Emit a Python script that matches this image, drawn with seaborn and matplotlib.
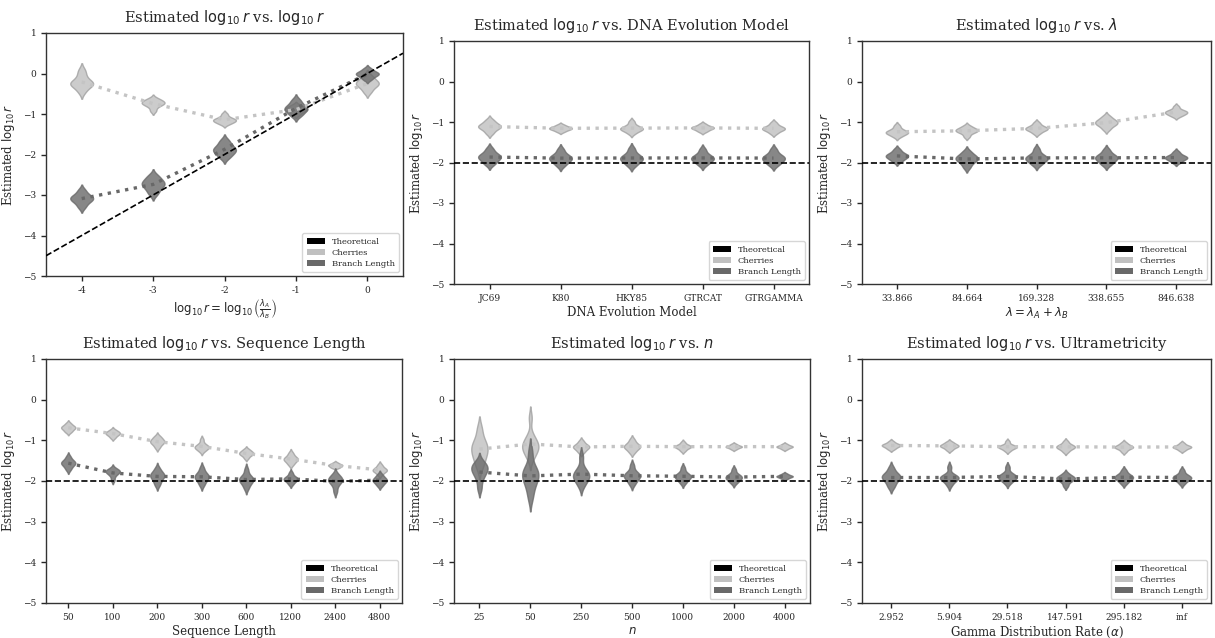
import numpy as np
import pandas as pd
import matplotlib
matplotlib.use("Agg")
import matplotlib.pyplot as plt
from matplotlib.patches import Patch
import seaborn as sns

# ---------------- data ----------------
THEORETICAL_LOG10R = -2

P1_X = [-4, -3, -2, -1, 0]
P1_XLABELS = ["-4", "-3", "-2", "-1", "0"]
P1_CHERRIES = [
    [-0.45, -0.33, -0.28, -0.25, -0.22, -0.17, -0.05, 0.08],
    [-0.92, -0.82, -0.77, -0.74, -0.72, -0.70, -0.66, -0.62],
    [-1.25, -1.21, -1.18, -1.16, -1.14, -1.12, -1.08, -1.00],
    [-1.02, -0.96, -0.92, -0.90, -0.88, -0.86, -0.82, -0.78],
    [-0.46, -0.36, -0.30, -0.26, -0.23, -0.19, -0.13, -0.05],
]
P1_BRANCH = [
    [-3.30, -3.20, -3.14, -3.10, -3.07, -3.04, -2.98, -2.88],
    [-2.98, -2.88, -2.80, -2.75, -2.71, -2.67, -2.60, -2.52],
    [-2.08, -2.00, -1.94, -1.90, -1.86, -1.82, -1.74, -1.65],
    [-1.05, -0.98, -0.92, -0.88, -0.85, -0.81, -0.74, -0.65],
    [-0.15, -0.09, -0.05, -0.02, 0.00, 0.02, 0.06, 0.12],
]

P2_X = ["JC69", "K80", "HKY85", "GTRCAT", "GTRGAMMA"]
P2_CHERRIES = [
    [-1.28, -1.20, -1.15, -1.12, -1.10, -1.07, -1.02, -0.95],
    [-1.24, -1.20, -1.18, -1.16, -1.15, -1.13, -1.11, -1.07],
    [-1.28, -1.22, -1.19, -1.17, -1.15, -1.13, -1.08, -0.99],
    [-1.24, -1.20, -1.17, -1.15, -1.14, -1.12, -1.10, -1.05],
    [-1.28, -1.22, -1.19, -1.17, -1.15, -1.13, -1.09, -1.02],
]
P2_BRANCH = [
    [-2.05, -1.98, -1.92, -1.88, -1.85, -1.82, -1.76, -1.66],
    [-2.08, -2.00, -1.95, -1.91, -1.88, -1.85, -1.79, -1.68],
    [-2.08, -2.00, -1.95, -1.91, -1.88, -1.85, -1.78, -1.66],
    [-2.06, -1.99, -1.94, -1.91, -1.88, -1.85, -1.79, -1.68],
    [-2.07, -2.00, -1.95, -1.91, -1.88, -1.85, -1.79, -1.68],
]

P3_X = ["33.866", "84.664", "169.328", "338.655", "846.638"]
P3_CHERRIES = [
    [-1.36, -1.31, -1.28, -1.26, -1.24, -1.22, -1.17, -1.09],
    [-1.36, -1.28, -1.24, -1.22, -1.20, -1.18, -1.15, -1.10],
    [-1.28, -1.22, -1.19, -1.17, -1.15, -1.13, -1.09, -1.02],
    [-1.18, -1.10, -1.06, -1.03, -1.00, -0.97, -0.93, -0.86],
    [-0.86, -0.82, -0.79, -0.77, -0.75, -0.73, -0.70, -0.62],
]
P3_BRANCH = [
    [-1.98, -1.92, -1.88, -1.85, -1.83, -1.80, -1.76, -1.68],
    [-2.12, -2.02, -1.96, -1.92, -1.89, -1.86, -1.81, -1.73],
    [-2.06, -1.99, -1.94, -1.91, -1.88, -1.85, -1.79, -1.67],
    [-2.06, -1.99, -1.94, -1.90, -1.87, -1.84, -1.79, -1.69],
    [-2.00, -1.95, -1.91, -1.89, -1.87, -1.85, -1.81, -1.74],
]

P4_X = ["50", "100", "200", "300", "600", "1200", "2400", "4800"]
P4_CHERRIES = [
    [-0.80, -0.76, -0.72, -0.70, -0.68, -0.66, -0.63, -0.58],
    [-0.94, -0.89, -0.86, -0.84, -0.82, -0.80, -0.78, -0.74],
    [-1.18, -1.11, -1.07, -1.04, -1.02, -0.99, -0.95, -0.90],
    [-1.27, -1.22, -1.19, -1.17, -1.15, -1.13, -1.08, -0.98],
    [-1.44, -1.38, -1.35, -1.33, -1.31, -1.29, -1.26, -1.22],
    [-1.60, -1.54, -1.50, -1.47, -1.45, -1.43, -1.38, -1.31],
    [-1.68, -1.66, -1.64, -1.62, -1.61, -1.60, -1.58, -1.55],
    [-1.85, -1.79, -1.76, -1.74, -1.72, -1.70, -1.66, -1.60],
]
P4_BRANCH = [
    [-1.72, -1.65, -1.60, -1.57, -1.55, -1.52, -1.48, -1.40],
    [-1.98, -1.88, -1.82, -1.79, -1.77, -1.75, -1.73, -1.69],
    [-2.10, -2.01, -1.94, -1.89, -1.86, -1.83, -1.78, -1.69],
    [-2.10, -2.01, -1.95, -1.91, -1.88, -1.85, -1.79, -1.68],
    [-2.18, -2.08, -2.02, -1.98, -1.95, -1.92, -1.86, -1.72],
    [-2.08, -2.02, -1.98, -1.96, -1.94, -1.92, -1.88, -1.80],
    [-2.26, -2.12, -2.04, -2.00, -1.97, -1.94, -1.90, -1.83],
    [-2.12, -2.06, -2.02, -1.99, -1.97, -1.94, -1.90, -1.84],
]

P5_X = ["25", "50", "250", "500", "1000", "2000", "4000"]
P5_CHERRIES = [
    [-1.65, -1.48, -1.36, -1.26, -1.18, -1.10, -0.98, -0.72],
    [-1.45, -1.35, -1.25, -1.20, -1.16, -1.12, -1.06, -0.98, -0.88, -0.45],
    [-1.30, -1.24, -1.20, -1.17, -1.15, -1.13, -1.09, -1.02],
    [-1.30, -1.23, -1.19, -1.16, -1.14, -1.11, -1.06, -0.98],
    [-1.26, -1.21, -1.18, -1.16, -1.15, -1.13, -1.11, -1.05],
    [-1.22, -1.19, -1.17, -1.16, -1.15, -1.14, -1.12, -1.09],
    [-1.22, -1.19, -1.17, -1.16, -1.15, -1.14, -1.12, -1.09],
]
P5_BRANCH = [
    [-2.18, -1.96, -1.84, -1.76, -1.71, -1.66, -1.60, -1.53],
    [-2.40, -2.15, -2.00, -1.90, -1.83, -1.76, -1.66, -1.30],
    [-2.12, -2.00, -1.93, -1.88, -1.84, -1.79, -1.68, -1.40],
    [-2.08, -1.99, -1.93, -1.89, -1.86, -1.83, -1.77, -1.62],
    [-2.05, -1.98, -1.93, -1.90, -1.88, -1.85, -1.80, -1.68],
    [-2.05, -1.99, -1.95, -1.92, -1.90, -1.87, -1.83, -1.72],
    [-1.95, -1.92, -1.90, -1.89, -1.88, -1.87, -1.85, -1.82],
]

P6_X = ["2.952", "5.904", "29.518", "147.591", "295.182", "inf"]
P6_CHERRIES = [
    [-1.22, -1.18, -1.15, -1.13, -1.12, -1.10, -1.08, -1.03],
    [-1.24, -1.19, -1.16, -1.14, -1.13, -1.11, -1.08, -1.04],
    [-1.26, -1.21, -1.18, -1.17, -1.15, -1.14, -1.11, -1.03],
    [-1.28, -1.22, -1.19, -1.17, -1.15, -1.13, -1.10, -1.03],
    [-1.28, -1.22, -1.19, -1.17, -1.16, -1.14, -1.11, -1.06],
    [-1.25, -1.21, -1.18, -1.17, -1.16, -1.14, -1.12, -1.07],
]
P6_BRANCH = [
    [-2.15, -2.05, -1.97, -1.92, -1.89, -1.86, -1.80, -1.68],
    [-2.10, -2.01, -1.96, -1.93, -1.91, -1.89, -1.85, -1.66],
    [-2.05, -1.98, -1.94, -1.91, -1.89, -1.86, -1.81, -1.66],
    [-2.12, -2.03, -1.98, -1.95, -1.93, -1.91, -1.88, -1.82],
    [-2.06, -1.99, -1.95, -1.92, -1.90, -1.87, -1.83, -1.74],
    [-2.06, -1.99, -1.95, -1.93, -1.91, -1.88, -1.84, -1.74],
]

SERIES = ["Cherries", "Branch Length"]
LEGEND_LABELS = ["Theoretical", "Cherries", "Branch Length"]
YTICKS = [-5, -4, -3, -2, -1, 0, 1]

# ---------------- styling ----------------
sns.set_theme(style="ticks")
plt.rcParams["font.family"] = ["DejaVu Serif"]
plt.rcParams["mathtext.fontset"] = "dejavusans"

FILL = {"Cherries": "silver", "Branch Length": "dimgray"}
EDGE = {"Cherries": "#a0a0a0", "Branch Length": "#6a6a6a"}
LINE = {"Cherries": "#c4c4c4", "Branch Length": "#686868"}

W, H = 1215, 638
fig = plt.figure(figsize=(W / 100, H / 100), dpi=100)


def px_axes(x0, y0, x1, y1):
    return fig.add_axes([x0 / W, 1 - y1 / H, (x1 - x0) / W, (y1 - y0) / H])


YL = r"Estimated $\log_{10} r$"
panels = [
    dict(box=(46, 33, 403, 276), cats=P1_X, cher=P1_CHERRIES, br=P1_BRANCH, native=True,
         title=r"Estimated $\log_{10} r$ vs. $\log_{10} r$",
         xlabel=r"$\log_{10} r = \log_{10}\left(\frac{\lambda_A}{\lambda_B}\right)$"),
    dict(box=(454, 41, 809, 284), cats=P2_X, cher=P2_CHERRIES, br=P2_BRANCH, native=False,
         title=r"Estimated $\log_{10} r$ vs. DNA Evolution Model", xlabel="DNA Evolution Model"),
    dict(box=(862, 41, 1211, 284), cats=P3_X, cher=P3_CHERRIES, br=P3_BRANCH, native=False,
         title=r"Estimated $\log_{10} r$ vs. $\lambda$", xlabel=r"$\lambda = \lambda_A + \lambda_B$"),
    dict(box=(46, 359, 402, 603), cats=P4_X, cher=P4_CHERRIES, br=P4_BRANCH, native=False,
         title=r"Estimated $\log_{10} r$ vs. Sequence Length", xlabel="Sequence Length"),
    dict(box=(454, 359, 810, 603), cats=P5_X, cher=P5_CHERRIES, br=P5_BRANCH, native=False,
         title=r"Estimated $\log_{10} r$ vs. $n$", xlabel=r"$n$"),
    dict(box=(862, 359, 1211, 603), cats=P6_X, cher=P6_CHERRIES, br=P6_BRANCH, native=False,
         title=r"Estimated $\log_{10} r$ vs. Ultrametricity", xlabel=r"Gamma Distribution Rate ($\alpha$)"),
]


def long_df(cats, samples):
    rows = []
    for c, vals in zip(cats, samples):
        for v in vals:
            rows.append((c, v))
    return pd.DataFrame(rows, columns=["x", "y"])


for p in panels:
    ax = px_axes(*p["box"])
    for name, samples in zip(SERIES, [p["cher"], p["br"]]):
        d = long_df(p["cats"], samples)
        kw = dict(native_scale=True) if p["native"] else dict(order=p["cats"])
        n_before = len(ax.collections)
        sns.violinplot(data=d, x="x", y="y", color=FILL[name], inner=None,
                       width=0.32, density_norm="width", cut=2, bw_adjust=0.8,
                       linewidth=1.0, linecolor=EDGE[name], saturation=1,
                       ax=ax, **kw)
        for coll in ax.collections[n_before:]:
            coll.set_alpha(0.8)
        sns.pointplot(data=d, x="x", y="y", color=LINE[name], estimator="mean",
                      errorbar=None, marker="", linestyle=":", linewidth=2.4,
                      ax=ax, **kw)
    if p["native"]:
        ax.axline((0, 0), slope=1, color="black", ls="--", lw=1.2, zorder=5)
        ax.set_xlim(-4.5, 0.5)
        ax.set_xticks(P1_X)
        ax.set_xticklabels(P1_XLABELS)
    else:
        ax.axhline(THEORETICAL_LOG10R, color="black", ls="--", lw=1.2, zorder=5)
    ax.set_ylim(-5, 1)
    ax.set_yticks(YTICKS)
    ax.tick_params(axis="both", labelsize=6.5, length=3.5, width=1.0)
    ax.set_title(p["title"], fontsize=10.5, pad=8)
    ax.set_xlabel(p["xlabel"], fontsize=8.5, labelpad=2)
    ax.set_ylabel(YL, fontsize=8.5, labelpad=4)
    for s in ax.spines.values():
        s.set_color(".2")
        s.set_linewidth(1.0)
    handles = [Patch(facecolor=c, edgecolor="none") for c in ["black", "silver", "dimgray"]]
    ax.legend(handles, LEGEND_LABELS, loc="lower right", fontsize=6, frameon=True,
              handlelength=2.2, handleheight=0.8, borderpad=0.5, labelspacing=0.35)

fig.savefig("out.png", dpi=100)
